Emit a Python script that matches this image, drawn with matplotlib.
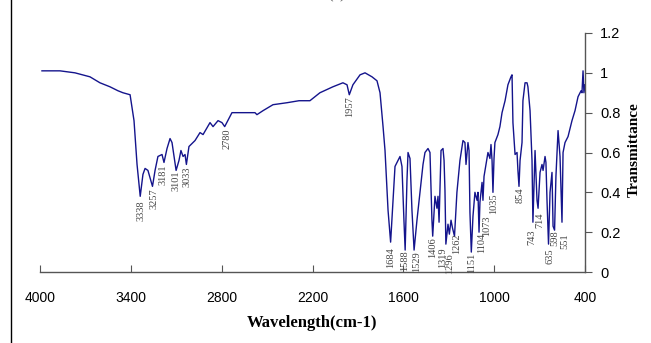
import matplotlib
matplotlib.use("Agg")
import matplotlib.pyplot as plt
from matplotlib.patches import Rectangle

# spectrum (wavenumber, transmittance)
wavenumber = [3987, 3868, 3769, 3670, 3604, 3538, 3485, 3452, 3405, 3379,
              3359, 3338, 3320, 3306, 3287, 3257, 3240, 3221, 3194, 3181,
              3161, 3141, 3128, 3101, 3082, 3069, 3055, 3042, 3033, 3016,
              2976, 2943, 2923, 2877, 2857, 2824, 2798, 2780, 2732, 2679,
              2580, 2567, 2527, 2461, 2368, 2289, 2217, 2151, 2065, 1999,
              1972, 1957, 1933, 1886, 1853, 1807, 1774, 1754, 1734, 1721,
              1701, 1684, 1668, 1655, 1622, 1609, 1596, 1588, 1576, 1569,
              1556, 1543, 1529, 1510, 1490, 1470, 1457, 1437, 1424, 1411,
              1406, 1391, 1378, 1371, 1364, 1351, 1338, 1331, 1325, 1319,
              1305, 1296, 1285, 1275, 1262, 1246, 1226, 1206, 1193, 1186,
              1173, 1166, 1160, 1151, 1140, 1127, 1113, 1107, 1100, 1094,
              1080, 1074, 1067, 1054, 1041, 1028, 1021, 1014, 1008, 1001,
              995, 975, 962, 948, 928, 909, 889, 882, 876, 862,
              849, 843, 836, 829, 816, 810, 796, 783, 777, 763,
              750, 744, 730, 717, 710, 697, 684, 677, 664, 658,
              651, 641, 631, 618, 611, 601, 592, 578, 565, 552,
              545, 532, 512, 486, 466, 446, 426, 420, 413, 407, 400]
transmittance = [1.01, 1.01, 1.00, 0.98, 0.95, 0.93, 0.91, 0.90, 0.89, 0.76,
                 0.54, 0.38, 0.49, 0.52, 0.51, 0.43, 0.51, 0.58, 0.59, 0.55,
                 0.62, 0.67, 0.65, 0.51, 0.56, 0.61, 0.58, 0.59, 0.54, 0.63,
                 0.66, 0.70, 0.69, 0.75, 0.73, 0.76, 0.75, 0.73, 0.80, 0.80,
                 0.80, 0.79, 0.81, 0.84, 0.85, 0.86, 0.86, 0.90, 0.93, 0.95,
                 0.94, 0.89, 0.94, 0.99, 1.00, 0.98, 0.96, 0.90, 0.73, 0.61,
                 0.31, 0.15, 0.36, 0.53, 0.58, 0.53, 0.26, 0.11, 0.46, 0.60,
                 0.57, 0.31, 0.11, 0.26, 0.40, 0.54, 0.60, 0.62, 0.60, 0.26,
                 0.18, 0.38, 0.32, 0.38, 0.25, 0.61, 0.62, 0.56, 0.41, 0.14,
                 0.24, 0.19, 0.26, 0.22, 0.18, 0.40, 0.56, 0.66, 0.65, 0.54,
                 0.65, 0.61, 0.30, 0.10, 0.28, 0.40, 0.36, 0.40, 0.20, 0.35,
                 0.45, 0.36, 0.48, 0.54, 0.60, 0.57, 0.64, 0.56, 0.40, 0.57,
                 0.65, 0.69, 0.73, 0.80, 0.86, 0.94, 0.98, 0.99, 0.75, 0.59,
                 0.60, 0.51, 0.43, 0.56, 0.65, 0.86, 0.95, 0.95, 0.93, 0.81,
                 0.56, 0.25, 0.61, 0.36, 0.32, 0.50, 0.54, 0.51, 0.58, 0.55,
                 0.36, 0.14, 0.40, 0.50, 0.23, 0.21, 0.48, 0.71, 0.58, 0.25,
                 0.60, 0.65, 0.68, 0.76, 0.81, 0.88, 0.91, 0.90, 1.01, 0.90, 0.94]

# peak labels: text, position of label (wavenumber, top of text)
peak_text = ["3338", "3257", "3181", "3101", "3033", "2780", "1957", "1684",
             "1588", "1529", "1406", "1319", "1296", "1262", "1151", "1104",
             "1073", "1035", "854", "743", "714", "635", "598", "551"]
peak_x = [3333, 3247, 3187, 3102, 3029, 2765, 1952, 1681,
          1589, 1510, 1404, 1338, 1292, 1246, 1146, 1080,
          1047, 1001, 829, 750, 697, 631, 598, 532]
peak_y = [0.36, 0.42, 0.54, 0.51, 0.53, 0.72, 0.88, 0.125,
          0.11, 0.105, 0.176, 0.125, 0.095, 0.196, 0.095, 0.196,
          0.286, 0.397, 0.427, 0.211, 0.301, 0.12, 0.211, 0.196]

x_ticks = [4000, 3400, 2800, 2200, 1600, 1000, 400]
y_ticks = [0, 0.2, 0.4, 0.6, 0.8, 1, 1.2]
y_tick_labels = ["0", "0.2", "0.4", "0.6", "0.8", "1", "1.2"]

fig = plt.figure(figsize=(6.51, 3.43), dpi=100)
ax = fig.add_axes([40 / 651, 1 - 272 / 343, 545 / 651, 239 / 343])

ax.plot(wavenumber, transmittance, color="#14148c", linewidth=1.0)

for txt, px, py in zip(peak_text, peak_x, peak_y):
    ax.text(px, py, txt, rotation=90, ha="center", va="top",
            fontsize=7.5, family="Liberation Serif", color="#444444")

ax.set_xlim(4000, 400)
ax.set_ylim(0, 1.2)
ax.set_xticks(x_ticks)
ax.set_yticks(y_ticks)
ax.set_yticklabels(y_tick_labels)

for side in ["left", "top"]:
    ax.spines[side].set_visible(False)
for side in ["bottom", "right"]:
    ax.spines[side].set_color("#555555")
    ax.spines[side].set_linewidth(1.0)

ax.yaxis.tick_right()
ax.tick_params(axis="x", direction="in", length=5, pad=14, color="#555555",
               labelsize=10)
ax.tick_params(axis="y", direction="out", length=5, pad=6, color="#555555",
               labelsize=10.5)
for lab in ax.get_xticklabels() + ax.get_yticklabels():
    lab.set_family("Liberation Sans")

ax.set_xlabel("Wavelength(cm-1)", family="Liberation Serif", fontweight="bold",
              fontsize=12, labelpad=7)
fig.text(634 / 651, 1 - 150 / 343, "Transmittance", rotation=90, ha="center",
         va="center", family="Liberation Serif", fontweight="bold", fontsize=11)

# title mostly cut off at top of image
fig.text(337 / 651, 1.006, "(a)", ha="center", va="baseline",
         family="Liberation Serif", fontsize=12, color="#555555")

# outer frame, left and top edges
fig.patches.append(Rectangle((11 / 651, -0.2), 1.2, 1.2 + 1 - 10 / 343,
                             transform=fig.transFigure, fill=False,
                             edgecolor="black", linewidth=1.0))

fig.savefig("out.png", dpi=100)
